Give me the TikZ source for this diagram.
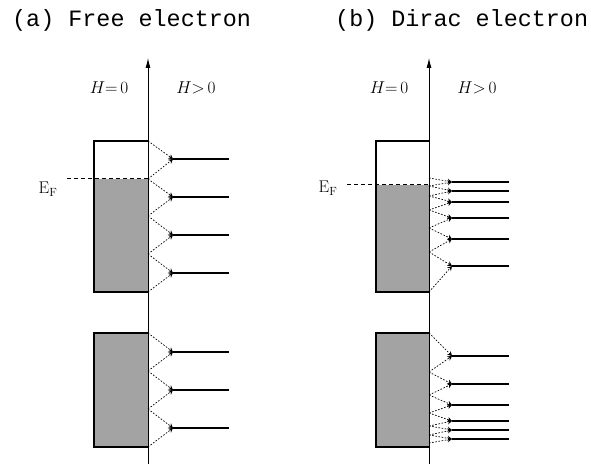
\documentclass[tikz,border=0pt]{standalone}
\usepackage{fontspec}
\newfontfamily\titlefont{Liberation Mono}
\usetikzlibrary{arrows.meta}

\begin{document}
\begin{tikzpicture}[x=1bp,y=-1bp, >=Latex,
  title/.style={anchor=base west,inner sep=0pt,font=\titlefont\fontsize{23.5}{26}\selectfont},
  field/.style={inner sep=0pt,font=\fontsize{17}{19}\selectfont},
  axis/.style={line width=0.9bp,-{Latex[length=10bp,width=5bp]}},
  bandbox/.style={draw,line width=1.1bp},
  sea/.style={fill=black!36},
  fermi/.style={line width=1bp,dash pattern=on 4bp off 3bp},
  level/.style={line width=1.1bp},
  link/.style={line width=0.7bp,dash pattern=on 1.6bp off 1.6bp,-{Stealth[length=4.5bp,width=5bp]}}]
\useasboundingbox (0,0) rectangle (591,464);

% (a) free electron
\node[title] (aTitle) at (12,27) {(a) Free electron};
\coordinate (aBot) at (148,464); \coordinate (aTop) at (148,58);
\node[field] (aH0) at (109,88) {$H{=}\,0$};
\node[field] (aH1) at (196,88) {$H{>}\,0$};
\fill[sea] (94,179) rectangle (148,292);
\fill[sea] (94,333) rectangle (148,447);
\draw[bandbox] (148,141) -- (94,141) -- (94,292) -- (148,292);
\draw[bandbox] (148,333) -- (94,333) -- (94,447) -- (148,447);
\node[field] (aEF) at (48,189) {$\mathrm{E_F}$};
\coordinate (aEFl) at (67,179); \coordinate (aEFr) at (148,179);
\draw[fermi] (aEFl) -- (aEFr);
\foreach \n/\t/\l/\b in {1/141/159/179, 2/179/197/216, 3/216/235/254, 4/254/273/292,
    5/333/352/371, 6/371/390/409, 7/409/428/447}{
  \coordinate (a\n t) at (148,\t); \coordinate (a\n b) at (148,\b);
  \coordinate (a\n s) at (173,\l); \coordinate (a\n e) at (229,\l);
  \draw[level] (a\n s) -- (a\n e);
  \draw[link] (a\n t) -- (a\n s);
  \draw[link] (a\n b) -- (a\n s);
}
\draw[axis] (aBot) -- (aTop);

% (b) Dirac electron
\node[title] (bTitle) at (335,27) {(b) Dirac electron};
\coordinate (bBot) at (429,464); \coordinate (bTop) at (429,58);
\node[field] (bH0) at (389,88) {$H{=}\,0$};
\node[field] (bH1) at (477,88) {$H{>}\,0$};
\fill[sea] (376,185) rectangle (429,292);
\fill[sea] (376,333) rectangle (429,447);
\draw[bandbox] (429,141) -- (376,141) -- (376,292) -- (429,292);
\draw[bandbox] (429,333) -- (376,333) -- (376,447) -- (429,447);
\node[field] (bEF) at (328,188) {$\mathrm{E_F}$};
\coordinate (bEFl) at (347,185); \coordinate (bEFr) at (429,185);
\draw[fermi] (bEFl) -- (bEFr);
\foreach \n/\t/\l/\b in {1/178/182/186, 2/186/191/196, 3/196/202/210, 4/210/218/228,
    5/228/239/252, 6/252/266/292,
    7/333/356/372, 8/372/384/395, 9/395/405/413, 10/413/421/426, 11/426/430/435, 12/435/439/443}{
  \coordinate (b\n t) at (429,\t); \coordinate (b\n b) at (429,\b);
  \coordinate (b\n s) at (452,\l); \coordinate (b\n e) at (509,\l);
  \draw[level] (b\n s) -- (b\n e);
  \draw[link] (b\n t) -- (b\n s);
  \draw[link] (b\n b) -- (b\n s);
}
\draw[axis] (bBot) -- (bTop);
\end{tikzpicture}
\end{document}
